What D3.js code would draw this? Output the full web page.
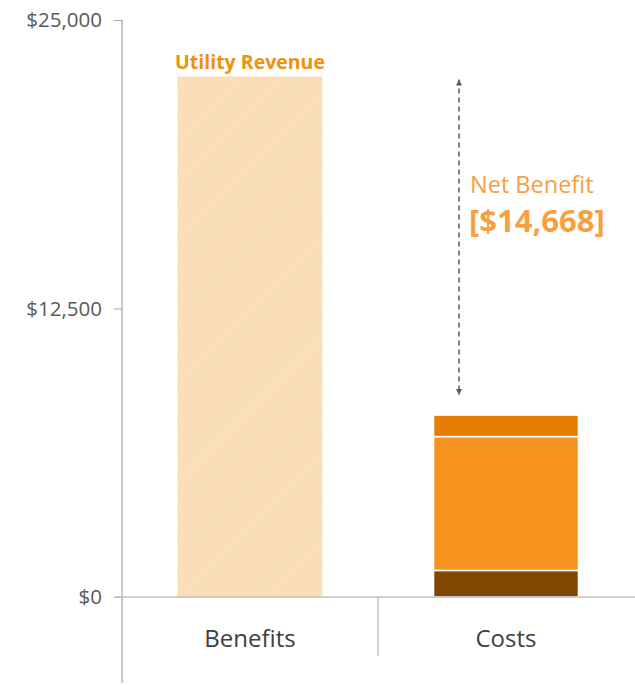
<!DOCTYPE html>
<html>
<head>
<meta charset="utf-8">
<script src="https://cdn.jsdelivr.net/npm/d3@7"></script>
<style>
  body { margin: 0; background: #fff; }
  svg text { font-family: "Open Sans", "Noto Sans", sans-serif; }
</style>
</head>
<body>
<svg id="chart" width="635" height="685"></svg>
<script>
const categories = ['Benefits', 'Costs'];
const benefitValues = [22550];
const costSegments = ['Other', 'Operations', 'Capital'];
const costValues = [1150, 5800, 932];   // bottom to top
const yTicks = [0, 12500, 25000];
const netBenefitLabel = '[$14,668]';

const costColors = ['#7f4700', '#f8931f', '#e87b04'];

const svg = d3.select('#chart');

const y = d3.scaleLinear().domain([0, 25000]).range([597, 20]);
const x = d3.scaleBand().domain(categories).range([122, 634])
    .paddingInner(0.434).paddingOuter(0.217);

// hatch pattern for the benefit bar
const defs = svg.append('defs');
const pat = defs.append('pattern')
    .attr('id', 'hatch')
    .attr('patternUnits', 'userSpaceOnUse')
    .attr('width', 2.5).attr('height', 2.5)
    .attr('patternTransform', 'rotate(45)');
pat.append('rect').attr('width', 2.5).attr('height', 2.5).attr('fill', '#fbe1be');
pat.append('line').attr('x1', 0).attr('y1', 0).attr('x2', 0).attr('y2', 2.5)
    .attr('stroke', '#f7d3a3').attr('stroke-width', 1);

// y axis
const yAxis = svg.append('g')
    .attr('transform', 'translate(122,0)')
    .call(d3.axisLeft(y).tickValues(yTicks).tickSize(8).tickPadding(12)
        .tickFormat(d => '$' + d3.format(',')(d)));
yAxis.select('.domain').remove();
yAxis.selectAll('.tick line').attr('stroke', '#a6a6a6');
yAxis.selectAll('.tick text').attr('fill', '#595959').style('font-size', '20.5px');
svg.append('line')
    .attr('x1', 122).attr('x2', 122).attr('y1', y(25000)).attr('y2', 683)
    .attr('stroke', '#a6a6a6').attr('stroke-width', 1.2);

// benefit bar
svg.append('g').selectAll('rect').data(benefitValues)
    .join('rect')
    .attr('x', x('Benefits'))
    .attr('width', x.bandwidth())
    .attr('y', d => y(d))
    .attr('height', d => y(0) - y(d))
    .attr('fill', 'url(#hatch)');

svg.append('text')
    .attr('x', x('Benefits') + x.bandwidth() / 2)
    .attr('y', y(benefitValues[0]) - 8)
    .attr('text-anchor', 'middle')
    .attr('fill', '#f0900c')
    .style('font-size', '19.5px').style('font-weight', 'bold')
    .text('Utility Revenue');

// stacked cost bar
const stackData = [Object.fromEntries(costSegments.map((k, i) => [k, costValues[i]]))];
const series = d3.stack().keys(costSegments)(stackData);
svg.append('g').selectAll('rect').data(series)
    .join('rect')
    .attr('x', x('Costs'))
    .attr('width', x.bandwidth())
    .attr('y', d => y(d[0][1]))
    .attr('height', d => y(d[0][0]) - y(d[0][1]))
    .attr('fill', (d, i) => costColors[i])
    .attr('stroke', '#fff')
    .attr('stroke-width', 1.5);

// x baseline and category divider
svg.append('line')
    .attr('x1', 114).attr('x2', 635).attr('y1', y(0)).attr('y2', y(0))
    .attr('stroke', '#bfbfbf').attr('stroke-width', 1.5);
svg.append('line')
    .attr('x1', 378).attr('x2', 378).attr('y1', y(0)).attr('y2', 656)
    .attr('stroke', '#a6a6a6').attr('stroke-width', 1);

svg.append('g').selectAll('text').data(categories)
    .join('text')
    .attr('x', d => x(d) + x.bandwidth() / 2)
    .attr('y', 647)
    .attr('text-anchor', 'middle')
    .attr('fill', '#404040')
    .style('font-size', '24px')
    .text(d => d);

// net benefit arrow
const costTotal = d3.sum(costValues);
const ax = 459;
defs.append('marker')
    .attr('id', 'arrow')
    .attr('viewBox', '0 0 10 10')
    .attr('refX', 10).attr('refY', 5)
    .attr('markerWidth', 4).attr('markerHeight', 4)
    .attr('orient', 'auto-start-reverse')
    .append('path').attr('d', 'M0,0L10,5L0,10Z').attr('fill', '#595959');
svg.append('line')
    .attr('x1', ax).attr('x2', ax)
    .attr('y1', y(benefitValues[0]) + 3)
    .attr('y2', y(costTotal) - 20)
    .attr('stroke', '#595959').attr('stroke-width', 1.5)
    .attr('stroke-dasharray', '5,4')
    .attr('marker-start', 'url(#arrow)')
    .attr('marker-end', 'url(#arrow)');

svg.append('text')
    .attr('x', 470).attr('y', 193)
    .attr('fill', '#f7a043')
    .style('font-size', '23.5px')
    .text('Net Benefit');
svg.append('text')
    .attr('x', 469).attr('y', 232)
    .attr('fill', '#f7a043')
    .style('font-size', '31px').style('font-weight', 'bold')
    .text(netBenefitLabel);
</script>
</body>
</html>
